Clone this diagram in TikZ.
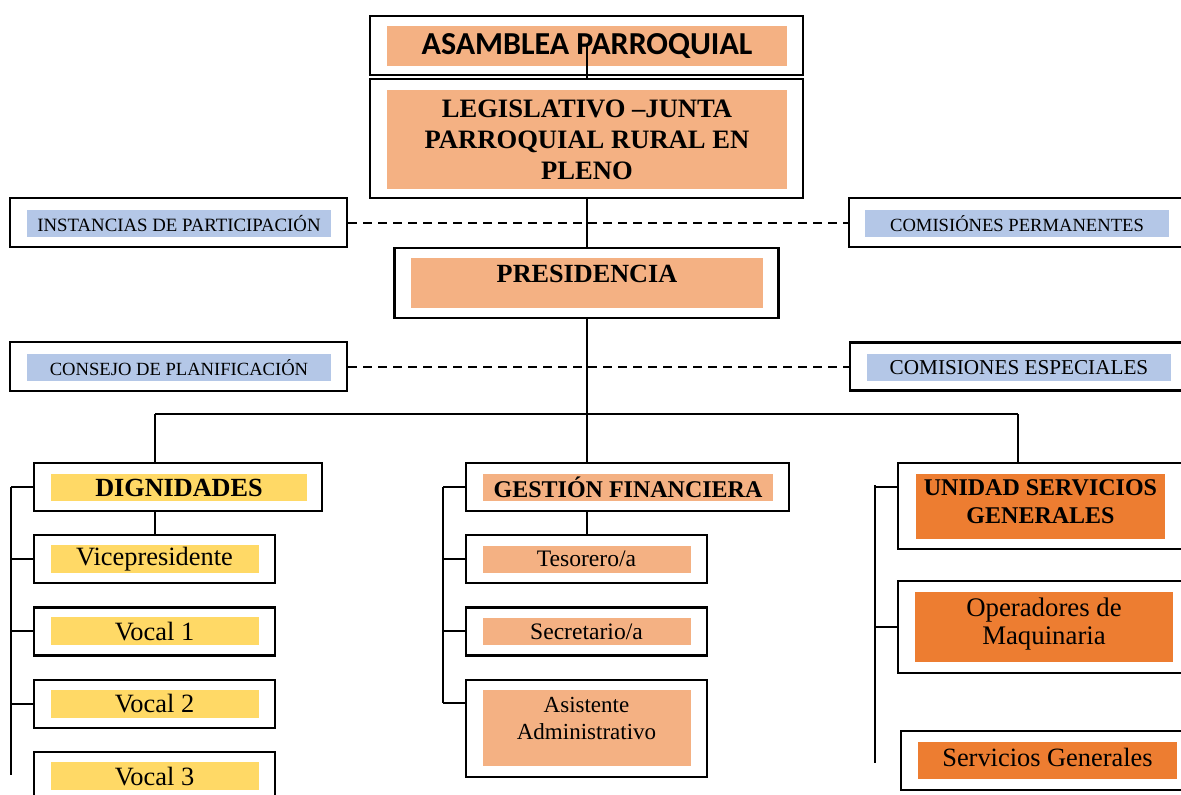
\documentclass[tikz,border=0pt]{standalone}
\usepackage{fontspec}
\setmainfont{Liberation Serif}
\newfontfamily\calibri{Carlito}
\usepackage{tikz}
\usetikzlibrary{positioning}

\definecolor{salmonfill}{HTML}{F4B183}
\definecolor{bluefill}{HTML}{B4C7E7}
\definecolor{yellowfill}{HTML}{FFD966}
\definecolor{orangefill}{HTML}{ED7D31}

\begin{document}
\begin{tikzpicture}[x=0.5pt, y=-0.5pt,
            frame/.style={rectangle, draw=black, line width=1.2pt, inner sep=0pt},
            fillbox/.style={rectangle, fill=#1, inner sep=0pt, align=center},
            link/.style={line width=1pt},
            dashlink/.style={line width=1pt, dash pattern=on 4.5pt off 3pt},
        ]
        \useasboundingbox (0,0) rectangle (1181,794);

        % Nodes.
        \node[frame, minimum width=216.5pt, minimum height=29.5pt] (asamblea) at (586.5,45.5) {};
        \node[fillbox=salmonfill, minimum width=200pt, minimum height=20pt, font=\calibri\bfseries\fontsize{16}{19}\selectfont] (asamblea_txt) at (587,46) {ASAMBLEA PARROQUIAL};

        \node[frame, minimum width=216.5pt, minimum height=59.5pt] (legislativo) at (586.5,138.5) {};
        \node[fillbox=salmonfill, minimum width=200pt, minimum height=49.5pt, font=\bfseries\fontsize{13.3}{15.5}\selectfont] (legislativo_txt) at (587,139.5) {LEGISLATIVO –JUNTA\\PARROQUIAL RURAL EN\\PLENO};

        \node[frame, minimum width=192pt, minimum height=35pt] (presidencia) at (586.5,283) {};
        \node[fillbox=salmonfill, minimum width=176pt, minimum height=25pt, text depth=9pt, font=\bfseries\fontsize{13.1}{15}\selectfont] (presidencia_txt) at (587,283) {PRESIDENCIA};

        \node[frame, minimum width=168.5pt, minimum height=24.5pt] (instancias) at (178.5,222.5) {};
        \node[fillbox=bluefill, minimum width=152pt, minimum height=13.5pt, font=\fontsize{9.4}{11}\selectfont] (instancias_txt) at (179,223.5) {INSTANCIAS DE PARTICIPACIÓN};

        \node[frame, minimum width=168pt, minimum height=24.5pt] (permanentes) at (1017,222.5) {};
        \node[fillbox=bluefill, minimum width=152pt, minimum height=13.5pt, font=\fontsize{9.3}{11}\selectfont] (permanentes_txt) at (1017,223.5) {COMISIÓNES PERMANENTES};

        \node[frame, minimum width=168.5pt, minimum height=24.5pt] (consejo) at (178.5,366.5) {};
        \node[fillbox=bluefill, minimum width=152pt, minimum height=13.5pt, font=\fontsize{9.3}{11}\selectfont] (consejo_txt) at (179,367.5) {CONSEJO DE PLANIFICACIÓN};

        \node[frame, minimum width=169pt, minimum height=24pt] (especiales) at (1019,366.5) {};
        \node[fillbox=bluefill, minimum width=152pt, minimum height=13.5pt, font=\fontsize{10.6}{12}\selectfont] (especiales_txt) at (1019,367.5) {COMISIONES ESPECIALES};

        % Dignidades.
        \node[frame, minimum width=144pt, minimum height=24pt] (dignidades) at (178,487) {};
        \node[fillbox=yellowfill, minimum width=128pt, minimum height=13.5pt, font=\bfseries\fontsize{13.1}{15}\selectfont] (dignidades_txt) at (179,487.5) {DIGNIDADES};

        \node[frame, minimum width=120.5pt, minimum height=24pt] (vice) at (154.5,559) {};
        \node[frame, minimum width=120.5pt, minimum height=24pt] (vocal1) [below=11pt of vice] {};
        \node[frame, minimum width=120.5pt, minimum height=24pt] (vocal2) [below=11pt of vocal1] {};
        \node[frame, minimum width=120.5pt, minimum height=24pt] (vocal3) [below=11pt of vocal2] {};
        \node[fillbox=yellowfill, minimum width=104pt, minimum height=14pt, font=\fontsize{13.2}{15}\selectfont] (vice_txt) at (vice) {Vicepresidente};
        \node[fillbox=yellowfill, minimum width=104pt, minimum height=14pt, font=\fontsize{13.2}{15}\selectfont] (vocal1_txt) at (vocal1) {Vocal 1};
        \node[fillbox=yellowfill, minimum width=104pt, minimum height=14pt, font=\fontsize{13.2}{15}\selectfont] (vocal2_txt) at (vocal2) {Vocal 2};
        \node[fillbox=yellowfill, minimum width=104pt, minimum height=14pt, font=\fontsize{13.2}{15}\selectfont] (vocal3_txt) at (vocal3) {Vocal 3};

        % Gestion financiera.
        \node[frame, minimum width=161.5pt, minimum height=24pt] (gestion) at (627.5,487) {};
        \node[fillbox=salmonfill, minimum width=145pt, minimum height=13.5pt, font=\bfseries\fontsize{12}{14}\selectfont] (gestion_txt) at (628,487.5) {GESTIÓN FINANCIERA};

        \node[frame, minimum width=120.5pt, minimum height=24pt] (tesorero) at (586.5,559) {};
        \node[frame, minimum width=120.5pt, minimum height=24pt] (secretario) [below=11pt of tesorero] {};
        \node[frame, minimum width=120.5pt, minimum height=48.5pt] (asistente) [below=11pt of secretario] {};
        \node[fillbox=salmonfill, minimum width=104pt, minimum height=13.5pt, font=\fontsize{11.8}{14}\selectfont] (tesorero_txt) at (tesorero) {Tesorero/a};
        \node[fillbox=salmonfill, minimum width=104pt, minimum height=13.5pt, font=\fontsize{11.8}{14}\selectfont] (secretario_txt) at (secretario) {Secretario/a};
        \node[fillbox=salmonfill, minimum width=104pt, minimum height=38pt, text depth=10pt, font=\fontsize{11.5}{13.5}\selectfont] (asistente_txt) at (asistente) {Asistente\\Administrativo};

        % Servicios generales.
        \node[frame, minimum width=142.5pt, minimum height=43pt] (unidad) at (1040.5,506) {};
        \node[fillbox=orangefill, minimum width=124.5pt, minimum height=32.5pt, text depth=5pt, font=\bfseries\fontsize{12}{14}\selectfont] (unidad_txt) at (1040.5,506.5) {UNIDAD SERVICIOS\\GENERALES};

        \node[frame, minimum width=146pt, minimum height=46pt] (operadores) at (1044,627) {};
        \node[fillbox=orangefill, minimum width=129pt, minimum height=35pt, text depth=6pt, font=\fontsize{13.4}{14}\selectfont] (operadores_txt) at (operadores) {Operadores de\\Maquinaria};

        \node[frame, minimum width=146.5pt, minimum height=29.5pt] (servicios) at (1047.5,760.5) {};
        \node[fillbox=orangefill, minimum width=129.5pt, minimum height=18.5pt, text depth=3pt, font=\fontsize{13.2}{15}\selectfont] (servicios_txt) at (servicios) {Servicios Generales};

        % Lines.
        \coordinate (bar_left) at (155,414);
        \coordinate (bar_right) at (1018,414);
        \coordinate (spine_dig) at (11,775);
        \coordinate (spine_fin) at (443,703);
        \coordinate (spine_srv) at (875,763);
        \coordinate (tick_srv) at (875,487);

        \draw[link] (asamblea.center) -- (legislativo.north);
        \draw[link] (legislativo.south) -- (presidencia.north);
        \draw[dashlink] (instancias.east) -- (permanentes.west);
        \draw[dashlink] (consejo.east) -- (especiales.west);

        \draw[link] (presidencia.south) -- (presidencia.south |- gestion.north);
        \draw[link] (bar_left) -- (bar_right);
        \draw[link] (bar_left) -- (bar_left |- dignidades.north);
        \draw[link] (bar_right) -- (bar_right |- unidad.north);
        \draw[link] (vice.north |- dignidades.south) -- (vice.north);
        \draw[link] (tesorero.north |- gestion.south) -- (tesorero.north);

        \draw[link] (spine_dig |- dignidades.west) -- (spine_dig);
        \foreach \n in {dignidades, vice, vocal1, vocal2}
            \draw[link] (\n.west) -- (\n.west -| spine_dig);

        \draw[link] (spine_fin |- gestion.west) -- (spine_fin);
        \foreach \n in {gestion, tesorero, secretario}
            \draw[link] (\n.west) -- (\n.west -| spine_fin);
        \draw[link] (spine_fin) -- (spine_fin -| asistente.west);

        \draw[link] ([yshift=1pt]tick_srv) -- (spine_srv);
        \draw[link] (tick_srv) -- (tick_srv -| unidad.west);
        \draw[link] (operadores.west) -- (operadores.west -| spine_srv);
\end{tikzpicture}
\end{document}
